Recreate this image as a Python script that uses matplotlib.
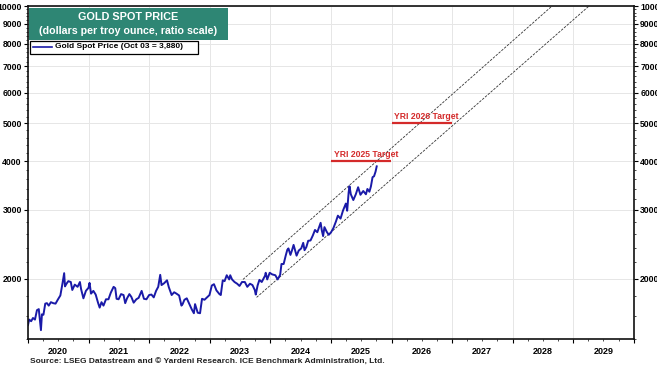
import numpy as np
import pandas as pd
import matplotlib
matplotlib.use("Agg")
import matplotlib.pyplot as plt
import matplotlib.dates as mdates
from matplotlib.patches import Rectangle
from matplotlib.ticker import FixedLocator, FuncFormatter, NullFormatter

plt.rcParams["font.family"] = ["Liberation Sans", "DejaVu Sans"]

# gold spot price (approx. semi-monthly with turning points)
dates = [
    "2020-01-01", "2020-01-08", "2020-01-20", "2020-01-31", "2020-02-12", "2020-02-24",
    "2020-03-06", "2020-03-12", "2020-03-19", "2020-03-25", "2020-04-03", "2020-04-14",
    "2020-04-24", "2020-05-05", "2020-05-18", "2020-06-01", "2020-06-15", "2020-06-30",
    "2020-07-14", "2020-07-27", "2020-08-06", "2020-08-11", "2020-08-20", "2020-08-31",
    "2020-09-15", "2020-09-24", "2020-10-09", "2020-10-26", "2020-11-09", "2020-11-16",
    "2020-11-30", "2020-12-15", "2020-12-31",
    "2021-01-06", "2021-01-15", "2021-01-29", "2021-02-12", "2021-02-26", "2021-03-08",
    "2021-03-19", "2021-03-31", "2021-04-15", "2021-04-30", "2021-05-14", "2021-05-31",
    "2021-06-10", "2021-06-18", "2021-06-30", "2021-07-15", "2021-07-30", "2021-08-09",
    "2021-08-20", "2021-09-03", "2021-09-15", "2021-09-29", "2021-10-15", "2021-10-29",
    "2021-11-16", "2021-11-30", "2021-12-15", "2021-12-31",
    "2022-01-14", "2022-01-28", "2022-02-11", "2022-02-24", "2022-03-08", "2022-03-16",
    "2022-03-31", "2022-04-18", "2022-04-29", "2022-05-16", "2022-05-31", "2022-06-14",
    "2022-06-30", "2022-07-14", "2022-07-21", "2022-08-01", "2022-08-15", "2022-08-31",
    "2022-09-15", "2022-09-27", "2022-10-04", "2022-10-20", "2022-11-03", "2022-11-15",
    "2022-11-30", "2022-12-15", "2022-12-30",
    "2023-01-13", "2023-01-26", "2023-02-10", "2023-02-28", "2023-03-08", "2023-03-20",
    "2023-03-31", "2023-04-13", "2023-04-28", "2023-05-04", "2023-05-15", "2023-05-30",
    "2023-06-15", "2023-06-29", "2023-07-14", "2023-07-31", "2023-08-15", "2023-08-31",
    "2023-09-15", "2023-09-29", "2023-10-05", "2023-10-16", "2023-10-27", "2023-11-10",
    "2023-11-30", "2023-12-04", "2023-12-13", "2023-12-28",
    "2024-01-12", "2024-01-31", "2024-02-14", "2024-02-29", "2024-03-08", "2024-03-21",
    "2024-04-03", "2024-04-12", "2024-04-19", "2024-05-01", "2024-05-10", "2024-05-20",
    "2024-06-07", "2024-06-20", "2024-07-05", "2024-07-17", "2024-07-25", "2024-08-05",
    "2024-08-16", "2024-08-30", "2024-09-13", "2024-09-26", "2024-10-10", "2024-10-30",
    "2024-11-06", "2024-11-14", "2024-11-22", "2024-12-06", "2024-12-18", "2024-12-31",
    "2025-01-15", "2025-01-30", "2025-02-11", "2025-02-27", "2025-03-14", "2025-03-31",
    "2025-04-08", "2025-04-17", "2025-04-22", "2025-04-30", "2025-05-15", "2025-05-30",
    "2025-06-13", "2025-06-27", "2025-07-14", "2025-07-30", "2025-08-08", "2025-08-20",
    "2025-08-29", "2025-09-08", "2025-09-17", "2025-09-26", "2025-10-03",
]
gold = [
    1520, 1570, 1555, 1585, 1570, 1660,
    1670, 1580, 1475, 1620, 1615, 1725,
    1730, 1705, 1740, 1730, 1725, 1770,
    1810, 1945, 2065, 1910, 1940, 1970,
    1960, 1870, 1930, 1905, 1960, 1880,
    1780, 1860, 1895,
    1950, 1830, 1860, 1820, 1735, 1685,
    1740, 1705, 1770, 1770, 1840, 1905,
    1890, 1775, 1770, 1825, 1815, 1730,
    1780, 1825, 1795, 1735, 1770, 1785,
    1860, 1775, 1770, 1815,
    1820, 1790, 1860, 1905, 2045, 1925,
    1945, 1980, 1900, 1815, 1845, 1830,
    1810, 1705, 1720, 1765, 1780, 1720,
    1665, 1630, 1720, 1635, 1630, 1775,
    1765, 1790, 1815,
    1920, 1935, 1865, 1825, 1815, 1980,
    1970, 2040, 1990, 2040, 1990, 1960,
    1940, 1915, 1960, 1960, 1905, 1940,
    1925, 1870, 1820, 1920, 1985, 1960,
    2035, 2070, 1990, 2070,
    2050, 2040, 1990, 2045, 2180, 2180,
    2295, 2370, 2390, 2300, 2360, 2440,
    2290, 2360, 2390, 2470, 2365, 2410,
    2500, 2505, 2580, 2665, 2630, 2780,
    2660, 2570, 2710, 2635, 2590, 2625,
    2695, 2800, 2900, 2850, 2990, 3115,
    2985, 3330, 3450, 3290, 3180, 3290,
    3430, 3280, 3355, 3290, 3395, 3340,
    3445, 3640, 3660, 3760, 3880,
]

# trend channel endpoints (ratio-scale parallel lines)
upper_dates = ["2023-07-20", "2028-08-25"]
upper_vals = [1990, 10000]
lower_dates = ["2023-10-10", "2029-04-05"]
lower_vals = [1790, 10000]

# YRI targets
target_labels = ["YRI 2025 Target", "YRI 2026 Target"]
target_vals = [4000, 5000]
target_start = ["2025-01-01", "2026-01-01"]
target_end = ["2025-12-31", "2026-12-31"]

x = pd.to_datetime(dates)

fig = plt.figure(figsize=(6.57, 3.68), dpi=100)
ax = fig.add_axes([28 / 657, 1 - 339 / 368, 606 / 657, 333 / 368])

ax.set_yscale("log")
ax.set_ylim(1400, 10000)
ax.set_xlim(pd.Timestamp("2020-01-01"), pd.Timestamp("2030-01-01"))

yt = [2000, 3000, 4000, 5000, 6000, 7000, 8000, 9000, 10000]
ax.yaxis.set_major_locator(FixedLocator(yt))
ax.yaxis.set_major_formatter(FuncFormatter(lambda v, p: f"{int(v)}"))
ax.yaxis.set_minor_locator(FixedLocator(np.arange(1400, 10000, 200)))
ax.yaxis.set_minor_formatter(NullFormatter())
ax.tick_params(axis="y", which="both", left=True, right=True,
               labelleft=True, labelright=True, direction="out")
ax.tick_params(axis="y", which="major", length=3, width=0.8,
               labelsize=6.2, pad=1.5)
ax.tick_params(axis="y", which="minor", length=1.5, width=0.5)
for lab in ax.get_yticklabels():
    lab.set_fontweight("bold")

ax.xaxis.set_major_locator(mdates.YearLocator())
ax.xaxis.set_major_formatter(NullFormatter())
ax.xaxis.set_minor_locator(mdates.MonthLocator(bymonth=[4, 7, 10]))
ax.xaxis.set_minor_formatter(FuncFormatter(
    lambda v, p: str(mdates.num2date(v).year) if mdates.num2date(v).month == 7 else ""))
ax.tick_params(axis="x", which="major", length=3, width=0.8)
ax.tick_params(axis="x", which="minor", length=1.5, width=0.5,
               labelsize=6.5, pad=4)
for lab in ax.get_xticklabels(minor=True):
    lab.set_fontweight("bold")

ax.grid(True, which="major", color="#e6e6e6", linewidth=0.7)
ax.set_axisbelow(True)
for s in ax.spines.values():
    s.set_linewidth(1.2)
    s.set_color("#111111")

# channel
ax.plot(pd.to_datetime(upper_dates), upper_vals, color="#333333",
        linewidth=0.6, linestyle=(0, (3, 1.5)))
ax.plot(pd.to_datetime(lower_dates), lower_vals, color="#333333",
        linewidth=0.6, linestyle=(0, (3, 1.5)))

# targets
for lbl, v, s, e in zip(target_labels, target_vals, target_start, target_end):
    ax.plot([pd.Timestamp(s), pd.Timestamp(e)], [v, v], color="#d42a2a",
            linewidth=1.6, solid_capstyle="butt")
    ax.text(pd.Timestamp(s) + pd.Timedelta(days=15), v * 1.012, lbl,
            color="#d42a2a", fontsize=6.2, fontweight="bold",
            ha="left", va="bottom")

line, = ax.plot(x, gold, color="#1a1aa8", linewidth=1.4)

# title box
fig.patches.append(Rectangle((29 / 657, 1 - 39.5 / 368), 199 / 657, 31.5 / 368,
                             transform=fig.transFigure, facecolor="#2e8674",
                             edgecolor="none", zorder=5))
fig.text(128.5 / 657, 1 - 17 / 368, "GOLD SPOT PRICE", color="white",
         fontsize=7.8, fontweight="bold", ha="center", va="center", zorder=6)
fig.text(128.5 / 657, 1 - 31.5 / 368, "(dollars per troy ounce, ratio scale)",
         color="white", fontsize=7.7, fontweight="bold", ha="center",
         va="center", zorder=6)

# legend box
fig.patches.append(Rectangle((30 / 657, 1 - 53.5 / 368), 168 / 657, 12.5 / 368,
                             transform=fig.transFigure, facecolor="white",
                             edgecolor="black", linewidth=0.9, zorder=5))
fig.lines.append(plt.Line2D([33 / 657, 52 / 657], [1 - 47 / 368, 1 - 47 / 368],
                            transform=fig.transFigure, color="#1a1aa8",
                            linewidth=1.2, zorder=6))
fig.text(55 / 657, 1 - 47 / 368, "Gold Spot Price (Oct 03 = 3,880)",
         fontsize=6, fontweight="bold", ha="left", va="center", zorder=6)

fig.text(30 / 657, 1 - 362 / 368,
         "Source: LSEG Datastream and \u00a9 Yardeni Research. ICE Benchmark Administration, Ltd.",
         fontsize=6.0, fontweight="bold", ha="left", va="center", color="#222222")

fig.savefig("out.png", dpi=100)
